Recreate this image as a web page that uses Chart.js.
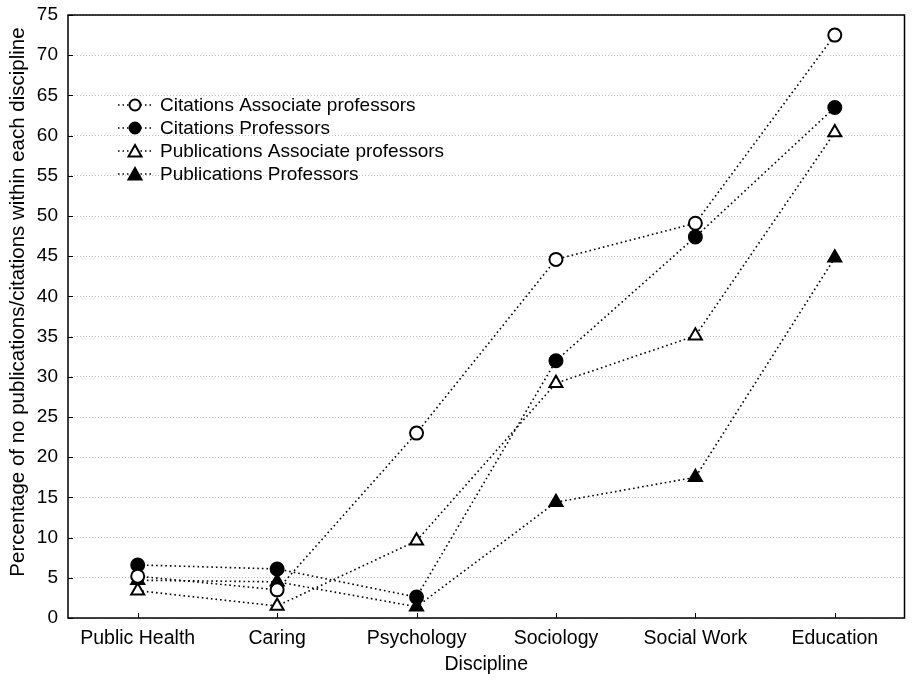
<!DOCTYPE html>
<html>
<head>
<meta charset="utf-8">
<script src="https://cdn.jsdelivr.net/npm/chart.js@4.4.0/dist/chart.umd.min.js"></script>
<style>
  html, body { margin: 0; padding: 0; background: #fff; }
  #wrap { width: 914px; height: 685px; }
</style>
</head>
<body>
<div id="wrap"><canvas id="grafico"></canvas></div>
<script>
// dados
const disciplinas = ['Public Health', 'Caring', 'Psychology', 'Sociology', 'Social Work', 'Education'];
const citacoesAssociados = [5.2, 3.5, 23.0, 44.6, 49.1, 72.5];
const citacoesProfessores = [6.6, 6.1, 2.6, 32.0, 47.4, 63.5];
const publicacoesAssociados = [3.4, 1.5, 9.6, 29.2, 35.1, 60.4];
const publicacoesProfessores = [4.7, 4.5, 1.4, 14.4, 17.5, 44.8];
const ticksY = [0, 5, 10, 15, 20, 25, 30, 35, 40, 45, 50, 55, 60, 65, 70, 75];
const tituloY = 'Percentage of no publications/citations within each discipline';

const fonte = 'Liberation Sans, Arial, sans-serif';

function serie(label, data, estilo, cheio) {
    return {
        label: label,
        data: data,
        borderColor: '#000',
        borderWidth: 1.6,
        borderDash: [1.6, 3],
        backgroundColor: cheio ? '#000' : '#fff',
        pointStyle: estilo,
        pointRadius: estilo === 'triangle' ? 7.5 : 6.5,
        pointBorderWidth: 2,
        pointBorderColor: '#000',
        pointBackgroundColor: cheio ? '#000' : '#fff',
        fill: false,
        tension: 0
    };
}

// moldura, ticks internos, título do eixo y e legenda dentro do gráfico
const extras = {
    id: 'extras',
    afterDraw(chart) {
        const c = chart.ctx, a = chart.chartArea;
        const x = chart.scales.x, y = chart.scales.y;
        c.save();
        c.strokeStyle = '#000';
        c.lineWidth = 1.5;
        c.setLineDash([]);
        c.strokeRect(a.left, a.top, a.right - a.left, a.bottom - a.top);
        c.lineWidth = 1;
        ticksY.forEach(v => {
            const py = Math.round(y.getPixelForValue(v)) + 0.5;
            c.beginPath(); c.moveTo(a.left, py); c.lineTo(a.left + 5, py); c.stroke();
        });
        disciplinas.forEach((d, i) => {
            const px = Math.round(x.getPixelForValue(i)) + 0.5;
            c.beginPath(); c.moveTo(px, a.bottom); c.lineTo(px, a.bottom - 5); c.stroke();
        });
        // título do eixo y
        c.save();
        c.translate(18, 302);
        c.rotate(-Math.PI / 2);
        c.font = '20.5px ' + fonte;
        c.textAlign = 'center';
        c.textBaseline = 'middle';
        c.fillStyle = '#000';
        c.fillText(tituloY, 0, 0);
        c.restore();
        // legenda
        c.font = '19px ' + fonte;
        c.textBaseline = 'middle';
        c.fillStyle = '#000';
        chart.data.datasets.forEach((ds, i) => {
            const ly = 105 + i * 23;
            c.strokeStyle = '#000';
            c.lineWidth = 1.5;
            c.setLineDash([1.5, 3]);
            c.beginPath(); c.moveTo(118, ly); c.lineTo(152, ly); c.stroke();
            c.setLineDash([]);
            c.lineWidth = 2;
            c.fillStyle = ds.pointBackgroundColor;
            c.beginPath();
            if (ds.pointStyle === 'circle') {
                c.arc(135, ly, 5.5, 0, Math.PI * 2);
            } else {
                c.moveTo(135, ly - 6); c.lineTo(141.5, ly + 5.5); c.lineTo(128.5, ly + 5.5); c.closePath();
            }
            c.fill(); c.stroke();
            c.fillStyle = '#000';
            c.fillText(ds.label, 160, ly + 1);
        });
        c.restore();
    }
};

const ctx = document.getElementById('grafico').getContext('2d');
new Chart(ctx, {
    type: 'line',
    data: {
        labels: disciplinas,
        datasets: [
            serie('Citations Associate professors', citacoesAssociados, 'circle', false),
            serie('Citations Professors', citacoesProfessores, 'circle', true),
            serie('Publications Associate professors', publicacoesAssociados, 'triangle', false),
            serie('Publications Professors', publicacoesProfessores, 'triangle', true)
        ]
    },
    options: {
        responsive: true,
        maintainAspectRatio: false,
        animation: false,
        layout: { padding: { left: 0, right: 8, top: 15, bottom: 0 } },
        plugins: { legend: { display: false }, tooltip: { enabled: false } },
        scales: {
            x: {
                offset: true,
                grid: { display: false, drawTicks: false },
                border: { display: false },
                ticks: { color: '#000', font: { family: fonte, size: 19.5 }, padding: 9 },
                title: { display: true, text: 'Discipline', color: '#000', font: { family: fonte, size: 19.5 }, padding: { top: 0, bottom: 9 } },
                afterFit(s) { s.height = 67; s.paddingLeft = 0; s.paddingRight = 0; }
            },
            y: {
                min: 0,
                max: 75,
                afterBuildTicks(s) { s.ticks = ticksY.map(v => ({ value: v })); },
                grid: {
                    color: '#c0c0c0',
                    lineWidth: 1,
                    drawTicks: false
                },
                border: { display: false, dash: [1, 2] },
                ticks: { color: '#000', font: { family: fonte, size: 19 }, padding: 10 },
                afterFit(s) { s.width = 68; s.paddingTop = 0; s.paddingBottom = 0; }
            }
        }
    },
    plugins: [extras]
});
</script>
</body>
</html>
